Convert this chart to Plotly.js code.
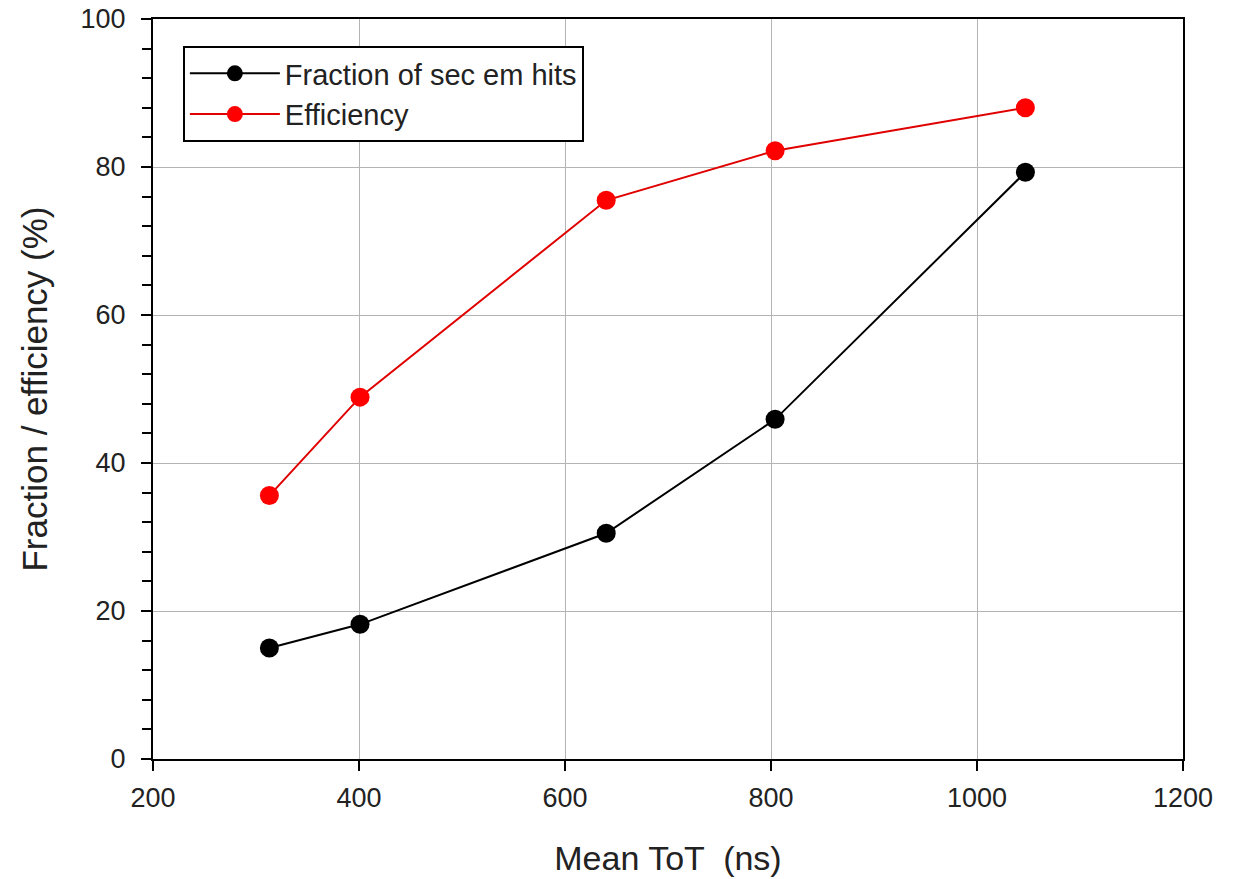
<!DOCTYPE html>
<html>
<head>
<meta charset="utf-8">
<script src="https://cdn.plot.ly/plotly-3.0.1.min.js"></script>
<style>body{margin:0;padding:0;background:#fff;}#chart{width:1240px;height:879px;}</style>
</head>
<body>
<div id="chart"></div>
<script>
const meanToT = [313, 401, 640, 804, 1047];
const fractionSecEm = [15.0, 18.2, 30.5, 45.9, 79.3];
const efficiency = [35.6, 48.9, 75.5, 82.2, 88.0];
const seriesNames = ["Fraction of sec em hits", "Efficiency"];
const xTitle = "Mean ToT  (ns)";
const yTitle = "Fraction / efficiency (%)";

const font = "Liberation Sans, Arial, sans-serif";
const traces = [
  {x: meanToT, y: fractionSecEm, name: seriesNames[0], type: "scatter", mode: "lines+markers",
   line: {color: "#000000", width: 2}, marker: {color: "#000000", size: 19}},
  {x: meanToT, y: efficiency, name: seriesNames[1], type: "scatter", mode: "lines+markers",
   line: {color: "#e00000", width: 2}, marker: {color: "#ff0000", size: 19}}
];
const layout = {
  width: 1240, height: 879,
  margin: {l: 153, r: 57, t: 19, b: 120},
  paper_bgcolor: "#fff", plot_bgcolor: "#fff",
  font: {family: font, color: "#222", size: 27},
  showlegend: true,
  legend: {x: 0.029, y: 0.9635, xanchor: "left", yanchor: "top", bgcolor: "#fff",
    bordercolor: "#000", borderwidth: 2, font: {size: 29, family: font, color: "#222"},
    itemwidth: 90, tracegroupgap: 0},
  xaxis: {range: [200, 1200], dtick: 200, tick0: 200, showgrid: true, gridcolor: "#b4b4b4", gridwidth: 1,
    zeroline: false, showline: true, linecolor: "#000", linewidth: 2, mirror: true,
    ticks: "outside", ticklen: 10, tickwidth: 2, tickcolor: "#000", ticklabelstandoff: 4,
    tickfont: {size: 27, family: font, color: "#222"},
    title: {text: xTitle, font: {size: 34, family: font, color: "#222"}, standoff: 34}},
  yaxis: {range: [0, 100], dtick: 20, showgrid: true, gridcolor: "#b4b4b4", gridwidth: 1,
    zeroline: false, showline: true, linecolor: "#000", linewidth: 2, mirror: true,
    ticks: "outside", ticklen: 10, tickwidth: 2, tickcolor: "#000", ticklabelstandoff: 10,
    minor: {dtick: 4, ticks: "outside", ticklen: 9, tickwidth: 2, tickcolor: "#000", showgrid: false},
    tickfont: {size: 27, family: font, color: "#222"},
    title: {text: yTitle, font: {size: 35, family: font, color: "#222"}, standoff: 22}}
};
Plotly.newPlot("chart", traces, layout, {displayModeBar: false});
</script>
</body>
</html>
